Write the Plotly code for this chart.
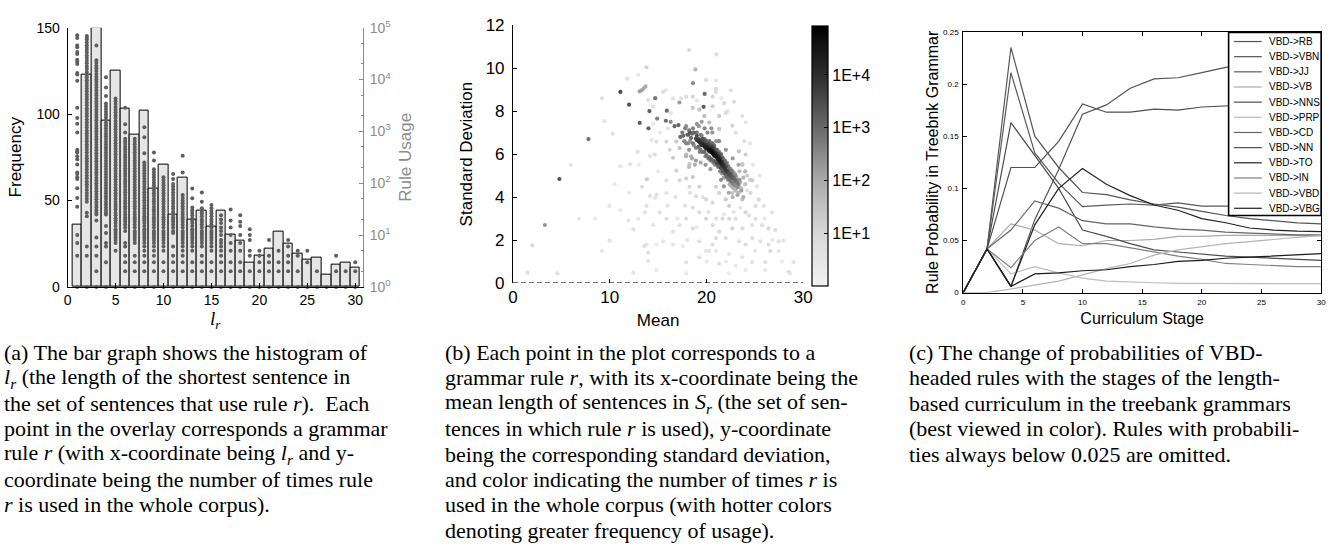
import math
import plotly.graph_objects as go

W, H = 1343, 552
SANS = "Liberation Sans"
SERIF = "Liberation Serif"


def px_x(p):
    return p / W


def px_y(p):
    return 1 - p / H


# ---------------- panel (a): histogram of l_r + rule usage overlay ----------------
lr_bins = list(range(1, 31))
lr_freq = [36, 123, 150, 96, 125, 103, 88, 102, 57, 71, 42, 63, 39, 44, 35,
           44, 30, 27, 14, 18, 22, 32, 25, 19, 16, 17, 7, 13, 14, 11]

usage_c1 = [71000, 63000, 45000, 42000, 34000, 31000, 24000, 22000, 20000, 13400, 12500, 9500,
            2850, 1800, 1400, 950, 440, 410, 390, 330, 290, 230, 160, 150, 130, 120, 80, 52, 35,
            10, 7, 4, 1]
usage_c2 = [69000, 64000, 59000, 52000, 46000, 41000, 37000, 33000, 29000, 26000, 23000, 20500,
            18000, 16000, 14000, 12400, 11000, 9700, 8600, 7600, 6700, 5900, 5200, 4600, 4100,
            3600, 3200, 2800, 2500, 2200, 1950, 1700, 1500, 1330, 1180, 1040, 920, 810, 720, 640,
            560, 500, 440, 390, 340, 300, 265, 235, 208, 184, 160, 140, 124, 108, 95, 84, 74, 65,
            57, 50, 44, 27, 23, 6, 4, 1]
usage_c3 = [45000, 23500, 21000, 18500, 16400, 14500, 12800, 11300, 10000, 8900, 7900, 7000, 6200,
            5500, 4900, 4300, 3800, 3400, 3000, 2650, 2350, 2080, 1840, 1630, 1450, 1280, 1130,
            1000, 890, 790, 700, 620, 550, 490, 430, 380, 340, 300, 265, 235, 208, 184, 163, 145,
            128, 113, 100, 89, 79, 70, 62, 55, 49, 43, 38, 34, 30, 27, 25, 19, 9, 6, 4, 2, 1]
usage_c4 = [11000, 7000, 4800, 3450, 3050, 2700, 2400, 2120, 1880, 1660, 1470, 1300, 1150, 1020,
            900, 800, 710, 630, 560, 495, 440, 390, 345, 305, 270, 240, 212, 188, 166, 147, 130,
            115, 102, 90, 80, 71, 63, 56, 50, 44, 39, 34, 30, 27, 25, 15, 11, 7, 6, 3, 1]
usage_c5 = [4300, 3800, 3350, 2950, 2600, 2300, 2030, 1800, 1590, 1400, 1240, 1100, 970, 860, 760,
            670, 590, 520, 460, 410, 360, 320, 283, 250, 221, 195, 172, 152, 135, 119, 105, 93,
            82, 73, 64, 57, 50, 44, 39, 35, 31, 27, 24, 21, 19, 17, 15, 13, 12, 11, 10, 9, 8, 7,
            5, 1]
usage_c6 = [2850, 1370, 950, 720, 640, 570, 505, 450, 400, 355, 315, 280, 248, 220, 195, 173, 154,
            137, 121, 108, 96, 85, 75, 67, 59, 52, 46, 41, 36, 32, 28, 25, 22, 20, 18, 16, 14, 12,
            7, 6, 4, 3, 2, 1]
usage_c7 = [720, 640, 565, 500, 445, 395, 350, 310, 275, 244, 216, 192, 170, 151, 134, 119, 105,
            93, 83, 73, 65, 58, 51, 45, 40, 36, 32, 28, 25, 22, 20, 18, 16, 14, 12, 11, 10, 9, 8,
            7, 4, 3, 2, 1]
usage_c8 = [1200, 770, 380, 250, 222, 197, 175, 155, 138, 122, 108, 96, 85, 76, 67, 60, 53, 47,
            42, 37, 33, 29, 26, 23, 21, 19, 17, 15, 13, 12, 11, 10, 9, 8, 7, 6, 5, 4, 3, 2, 1]
usage_c9 = [390, 275, 185, 165, 146, 130, 115, 102, 91, 81, 72, 64, 57, 50, 45, 40, 35, 31, 28,
            25, 22, 20, 18, 16, 14, 12, 11, 10, 9, 8, 7, 6, 5, 4, 3, 2, 1]
usage_c10 = [130, 115, 102, 91, 81, 72, 64, 57, 50, 45, 40, 35, 31, 28, 25, 22, 20, 18, 16, 14,
             12, 11, 10, 9, 8, 7, 6, 5, 3, 2, 1]
usage_c11 = [150, 120, 97, 86, 76, 67, 59, 52, 46, 41, 36, 32, 28, 25, 22, 20, 18, 16, 14, 12,
             11, 6, 4, 3, 2, 1]
usage_c12 = [340, 160, 59, 52, 46, 41, 36, 32, 28, 25, 22, 20, 18, 16, 14, 12, 11, 10, 9, 8, 7,
             6, 5, 4, 3, 2, 1]
usage_c13 = [79, 51, 34, 30, 27, 24, 21, 19, 17, 15, 13, 12, 11, 10, 9, 8, 7, 6, 5, 3, 2, 1]
usage_c14 = [66, 44, 33, 29, 26, 23, 20, 18, 16, 14, 12, 11, 10, 9, 8, 7, 6, 4, 3, 2, 1]
usage_c15 = [38, 33, 29, 26, 23, 20, 18, 16, 14, 12, 11, 10, 9, 8, 7, 6, 5, 3, 2, 1]
usage_c16 = [24, 20, 17, 14, 12, 10, 8, 7, 6, 5, 4, 3, 2, 1]
usage_c17 = [31, 19, 14, 10, 7, 5, 3, 2, 1]
usage_c18 = [24, 18, 15, 10, 7, 5, 3, 2, 1]
usage_c19 = [13, 10, 8, 5, 4, 2, 1]
usage_c20 = [5, 4, 3, 2, 1]
usage_c21 = [8, 4, 3, 2, 1]
usage_c22 = [5, 3, 2, 1]
usage_c23 = [8, 6, 4, 3, 2, 1]
usage_c24 = [5, 4, 2, 1]
usage_c25 = [5, 3, 1]
usage_c26 = [2, 1]
usage_c27 = [1]
usage_c28 = [4, 2, 1]
usage_c29 = [2, 1]
usage_c30 = [3, 2, 1]
usage_by_bin = [usage_c1, usage_c2, usage_c3, usage_c4, usage_c5, usage_c6, usage_c7, usage_c8,
                usage_c9, usage_c10, usage_c11, usage_c12, usage_c13, usage_c14, usage_c15,
                usage_c16, usage_c17, usage_c18, usage_c19, usage_c20, usage_c21, usage_c22,
                usage_c23, usage_c24, usage_c25, usage_c26, usage_c27, usage_c28, usage_c29,
                usage_c30]

a_xticks = [0, 5, 10, 15, 20, 25, 30]
a_yticks = [0, 50, 100, 150]
a_logticks = [1, 10, 100, 1000, 10000, 100000]
a_logticktext = ["10<sup>0</sup>", "10<sup>1</sup>", "10<sup>2</sup>", "10<sup>3</sup>",
                 "10<sup>4</sup>", "10<sup>5</sup>"]

# ---------------- panel (b): mean vs std of sentence length per rule ----------------
core_mean = [18.9, 19.0, 19.1, 19.2, 19.3, 19.3, 19.4, 19.5, 19.5, 19.6, 19.7, 19.7, 19.8, 19.9,
             19.9, 20.0, 20.1, 20.1, 20.2, 20.3, 20.3, 20.4, 20.5, 20.5, 20.6, 20.6, 20.7, 20.8,
             20.8, 20.9, 21.0, 21.0, 21.1, 21.2, 21.2, 21.3, 21.4, 21.4, 21.5, 21.6, 21.6, 21.7,
             21.8, 21.8, 21.9, 22.0, 22.0, 22.1, 22.2, 22.3, 22.4, 22.5, 22.6, 22.7, 22.8, 22.9,
             23.0, 23.1, 23.2, 23.3]
core_std = [6.72, 6.65, 6.70, 6.60, 6.55, 6.68, 6.50, 6.58, 6.42, 6.48, 6.40, 6.55, 6.35, 6.42,
            6.28, 6.33, 6.25, 6.40, 6.20, 6.30, 6.12, 6.18, 6.10, 6.25, 6.05, 6.15, 6.00, 6.08,
            5.92, 5.98, 5.88, 6.02, 5.82, 5.90, 5.75, 5.70, 5.78, 5.62, 5.58, 5.65, 5.50, 5.45,
            5.52, 5.38, 5.32, 5.40, 5.25, 5.18, 5.22, 5.10, 5.02, 5.08, 4.95, 4.88, 4.92, 4.80,
            4.72, 4.78, 4.65, 4.58]
core_usage = [3000, 5000, 2000, 8000, 4000, 1500, 10000, 3000, 6000, 12000, 7000, 2500, 15000,
              9000, 5000, 20000, 11000, 4000, 25000, 8000, 14000, 40000, 30000, 9000, 50000, 20000,
              35000, 12000, 25000, 18000, 30000, 6000, 20000, 10000, 15000, 25000, 8000, 12000,
              18000, 6000, 10000, 7000, 4000, 8000, 5000, 3000, 6000, 4000, 2000, 3000, 2500, 1500,
              2000, 1200, 800, 1000, 700, 500, 600, 400]

band_mean = [17.5, 17.7, 17.9, 18.1, 18.3, 18.4, 18.6, 18.7, 18.9, 19.0, 19.2, 19.4, 19.5, 19.6,
             19.8, 19.9, 20.0, 20.1, 20.2, 20.3, 20.4, 20.5, 20.6, 20.7, 20.8, 20.9, 21.0, 21.1,
             21.2, 21.3, 21.4, 21.5, 21.6, 21.7, 21.8, 21.9, 22.0, 22.1, 22.2, 22.3, 22.4, 22.5,
             22.6, 22.7, 22.8, 22.9, 23.0, 23.2, 23.4, 23.6, 23.2, 23.8, 22.7, 22.3, 21.8, 21.5,
             20.4, 19.9, 19.4, 18.9, 18.2, 17.9, 19.0, 19.8, 20.6, 21.3, 22.0, 22.7, 23.3, 24.0]
band_std = [7.0, 6.6, 7.3, 6.9, 7.0, 6.75, 6.5, 7.0, 6.3, 6.85, 6.35, 6.2, 6.85, 6.7, 6.1, 6.6,
            5.95, 6.55, 6.45, 5.85, 6.4, 5.75, 6.35, 5.7, 6.25, 5.65, 6.2, 5.55, 6.05, 5.45, 5.95,
            5.35, 5.85, 5.2, 5.7, 5.1, 5.55, 4.95, 5.45, 4.85, 5.3, 4.75, 5.2, 4.65, 5.05, 4.55,
            5.0, 4.45, 4.8, 4.3, 4.1, 4.0, 4.0, 4.2, 4.5, 4.8, 5.3, 5.5, 5.6, 5.7, 6.2, 6.5, 7.4,
            7.2, 7.0, 6.6, 6.2, 5.8, 5.5, 5.2]
band_usage = [500, 300, 200, 1500, 2000, 900, 600, 1200, 400, 2500, 800, 600, 400, 3000, 900,
              2000, 700, 1500, 3000, 900, 2000, 1200, 4000, 800, 3000, 2000, 1500, 3000, 2500,
              1500, 2000, 2500, 1200, 2000, 900, 1500, 1000, 1200, 700, 900, 600, 700, 500, 500,
              400, 300, 300, 250, 200, 150, 100, 80, 60, 120, 200, 300, 150, 200, 100, 150, 200,
              400, 250, 350, 200, 300, 200, 150, 100, 60]

halo_mean = [18.0, 18.2, 18.3, 18.5, 18.6, 18.7, 18.5, 18.8, 18.4, 19.0, 19.1, 19.2, 19.3, 19.4,
             19.5, 19.6, 19.8, 19.9, 20.0, 20.1, 20.2, 20.3, 20.4, 20.5, 20.6, 20.7, 20.8, 20.9,
             21.0, 21.1, 21.2, 21.3, 21.4, 21.5, 21.6, 21.7, 21.8, 21.9, 22.0, 22.1, 22.2, 22.3,
             22.4, 22.5, 22.6, 22.7, 22.8, 22.9, 23.0, 23.1, 23.3, 23.5, 23.6, 23.8, 24.0, 24.2,
             24.5, 23.4, 23.7, 19.7, 17.6, 17.3, 17.8, 18.1, 17.9, 18.2]
halo_std = [6.9, 7.1, 6.6, 6.95, 7.2, 6.4, 5.8, 5.5, 5.9, 7.0, 6.3, 7.3, 6.1, 6.9, 7.5, 6.1, 6.7,
            5.9, 6.6, 7.0, 5.8, 6.6, 5.7, 7.2, 6.5, 5.6, 6.4, 5.5, 6.6, 6.2, 5.4, 6.1, 5.2, 6.0,
            5.1, 5.8, 4.9, 5.7, 5.0, 5.6, 4.8, 5.4, 4.6, 5.3, 4.5, 5.2, 4.4, 5.1, 4.3, 4.9, 4.2,
            4.7, 4.4, 4.9, 4.6, 5.0, 4.8, 5.2, 5.5, 6.6, 6.85, 6.8, 7.2, 6.5, 5.9, 5.4]
halo_usage = [300, 500, 200, 800, 400, 150, 100, 80, 60, 600, 300, 200, 400, 500, 150, 700, 900,
              400, 600, 300, 500, 800, 300, 200, 1000, 400, 700, 300, 200, 600, 500, 400, 300,
              600, 200, 500, 150, 300, 400, 200, 150, 300, 100, 200, 80, 150, 60, 100, 50, 80, 40,
              60, 30, 50, 30, 20, 15, 40, 25, 250, 800, 1000, 400, 250, 60, 40]

isolated_mean = [11.1, 12.0, 13.1, 13.3, 13.5, 13.7, 13.8, 14.1, 14.7, 13.1, 14.0, 14.9, 15.9,
                 15.8, 16.3, 16.7, 17.1, 17.2, 19.8, 19.7, 18.6, 18.85, 18.2, 21.0, 4.8, 7.8, 3.3,
                 2.0, 1.5, 4.6]
isolated_std = [8.89, 8.3, 8.92, 8.97, 9.05, 9.15, 10.04, 8.0, 8.6, 7.45, 7.2, 7.65, 8.02, 7.55,
                7.5, 7.3, 7.35, 8.4, 8.8, 8.2, 9.3, 9.94, 10.84, 10.64, 4.84, 6.7, 2.7, 1.75,
                0.48, 0.45]
isolated_usage = [3000, 2500, 150, 120, 100, 80, 12, 1500, 600, 1500, 1200, 400, 800, 900, 300,
                  1000, 1200, 150, 1000, 1500, 300, 60, 8, 6, 2500, 700, 200, 8, 5, 4]

sparse_mean = [19.95, 20.97, 20.97, 20.97, 22.5, 22.84, 20.63, 21.99, 23.7, 24.04, 22.67, 21.31,
               17.9, 18.58, 17.39, 16.54, 15.51, 15.79, 13.98, 14.49, 18.58, 19.26, 20.63, 21.82,
               19.77, 20.29, 21.31,
               23.35, 24.04, 23.7, 24.72, 24.55, 25.4, 25.91, 25.06, 24.72, 24.04, 23.7, 23.35,
               22.67, 22.33, 21.99, 21.31, 20.97, 20.63, 19.95, 19.26, 18.58, 17.9, 18.24, 18.92,
               17.22, 16.88, 16.54, 17.22, 17.9, 18.24, 16.2, 15.85, 16.88,
               18.58, 19.26, 19.95, 20.63, 21.31, 21.99, 22.67, 23.35, 24.04, 24.72, 25.57, 26.42,
               27.1, 27.45, 27.96, 26.42, 26.59, 27.45, 26.08, 24.72, 23.7, 22.33, 21.31, 20.63,
               19.95, 19.26, 18.58, 17.9, 17.22, 16.54, 15.85, 15.17, 14.49, 13.8, 13.57, 13.98,
               13.98, 14.83, 15.51, 16.54, 17.56, 17.9, 19.26, 20.29, 20.97, 21.65, 22.33, 23.01,
               23.7, 24.38, 25.06, 25.74, 26.76, 28.98, 28.47, 28.64, 26.08, 24.04, 22.33, 17.9,
               14.83, 12.44,
               13.8, 13.64, 14.15, 13.33, 13.84, 14.83, 14.69, 15.85, 15.85, 12.89, 14.15, 14.66,
               14.83, 14.32, 12.1, 11.08, 9.96, 11.93, 12.44, 12.96, 11.08, 9.99, 9.2, 6.82, 5.97,
               10.3, 9.44, 9.2, 11.8, 12.96]
sparse_std = [9.45, 9.42, 9.04, 8.89, 8.97, 8.43, 8.22, 7.92, 7.77, 7.47, 7.32, 7.77,
              8.67, 8.67, 8.59, 8.59, 8.89, 8.97, 8.52, 8.22, 8.15, 8.07, 8.67, 8.37,
              7.77, 7.47, 7.17,
              6.13, 5.98, 5.53, 4.78, 4.19, 3.89, 3.59, 2.99, 2.69, 3.29, 3.89, 4.48,
              4.19, 3.59, 3.89, 4.19, 4.48, 3.74, 3.89, 4.48, 4.93, 4.86, 4.48, 4.04,
              4.78, 5.23, 5.83, 6.28, 5.98, 5.53, 6.2, 6.58, 6.58,
              3.51, 3.29, 2.99, 2.69, 2.39, 2.09, 2.54, 1.94, 1.79, 2.09, 1.94, 2.54,
              2.47, 1.94, 1.97, 1.79, 1.49, 1.49, 0.97, 0.97, 1.2, 1.35, 0.9, 1.79,
              1.49, 1.94, 2.54, 2.99, 2.69, 2.39, 2.99, 3.29, 2.69, 1.79, 1.72, 1.42,
              1.02, 1.79, 1.94, 1.79, 1.72, 0.97, 1.2, 1.49, 2.09, 2.99, 2.99, 2.99,
              2.54, 3.14, 3.59, 2.69, 3.29, 0.97, 0.52, 0.45, 0.6, 0.6, 0.45, 0.45,
              0.6, 0.48,
              3.59, 3.29, 4.04, 4.48, 4.83, 4.11, 3.96, 4.78, 4.19, 6.1, 5.9, 5.98,
              6.58, 6.65, 5.53, 5.43, 3.59, 2.91, 2.5, 2.99, 3.39, 1.97, 1.49, 2.99, 5.5,
              6.95, 7.53, 8.59, 9.51, 9.69]
sparse_usage = [6, 3, 8, 5, 4, 6, 15, 10, 4, 3, 12, 20,
                6, 9, 5, 4, 7, 3, 5, 4, 25, 30, 10, 8,
                40, 35, 25,
                30, 15, 25, 20, 12, 8, 5, 6, 4, 10, 30, 40,
                25, 15, 20, 12, 15, 8, 10, 12, 20, 15, 8, 6,
                10, 12, 18, 30, 35, 25, 10, 8, 20,
                5, 7, 10, 6, 8, 5, 12, 4, 6, 5, 4, 8,
                6, 4, 3, 5, 7, 3, 4, 3, 4, 3, 4, 5,
                3, 4, 6, 5, 4, 3, 5, 4, 3, 3, 4, 5,
                3, 2, 3, 3, 2, 3, 4, 3, 6, 8, 10, 7,
                6, 5, 6, 4, 3, 3, 4, 3, 2, 2, 2, 2,
                2, 3,
                4, 3, 5, 6, 20, 4, 3, 5, 4, 5, 4, 6,
                5, 3, 4, 3, 3, 3, 4, 3, 2, 3, 3, 3, 3,
                4, 3, 4, 4, 3]

faint_mean = [16.0, 17.0, 18.0, 19.0, 20.0, 21.0, 22.0, 23.0, 25.0, 26.0, 25.5, 24.5, 23.0, 22.2,
              21.5, 19.0, 16.0, 15.0, 13.0, 12.0, 10.5, 8.5, 16.8, 17.8, 18.3, 19.6, 20.2, 21.0,
              21.8, 22.8, 23.5, 24.2, 25.2, 24.8, 23.9, 16.3, 15.2, 14.5, 26.8, 27.8]
faint_std = [3.6, 3.0, 2.0, 2.6, 1.0, 1.5, 1.0, 0.8, 1.5, 3.0, 5.0, 6.5, 7.0, 8.0, 8.6, 8.5, 7.2,
             5.2, 5.5, 4.2, 4.6, 3.0, 4.0, 3.6, 4.2, 4.0, 3.3, 3.0, 3.2, 3.3, 3.5, 4.3, 4.5, 5.5,
             6.6, 7.9, 7.0, 7.4, 2.0, 1.0]
faint_usage = [3, 2, 3, 2, 2, 3, 2, 2, 3, 2, 3, 3, 4, 3, 2, 3, 3, 2, 2, 2, 2, 2, 3, 4, 5, 4, 3, 4,
               3, 3, 3, 4, 3, 3, 5, 3, 2, 3, 2, 2]

# rules used in a single sentence length (std = 0) form the dashed baseline
zero_std_mean = [0, 30]
zero_std_std = [0, 0]

b_xticks = [0, 10, 20, 30]
b_yticks = [0, 2, 4, 6, 8, 10, 12]
cbar_log_max = 4.92
cbar_ticks = [1, 2, 3, 4]
cbar_ticktext = ["1E+1", "1E+2", "1E+3", "1E+4"]

# ---------------- panel (c): VBD-headed rule probabilities per curriculum stage ----------------
stages = [0, 2, 4, 6, 8, 10, 12, 14, 16, 18, 20, 22, 24, 26, 28, 30]
rule_names = ["VBD->RB", "VBD->VBN", "VBD->JJ", "VBD->VB", "VBD->NNS", "VBD->PRP",
              "VBD->CD", "VBD->NN", "VBD->TO", "VBD->IN", "VBD->VBD", "VBD->VBG"]
p_rb = [0, 0.042, 0.235, 0.150, 0.120, 0.096, 0.094, 0.089, 0.085, 0.082, 0.078, 0.074, 0.071,
        0.069, 0.067, 0.066]
p_vbn = [0, 0.042, 0.006, 0.070, 0.118, 0.171, 0.180, 0.196, 0.205, 0.206, 0.211, 0.216, 0.219,
         0.222, 0.225, 0.227]
p_jj = [0, 0.042, 0.211, 0.134, 0.105, 0.0825, 0.084, 0.085, 0.084, 0.086, 0.083, 0.083, 0.083,
        0.083, 0.082, 0.082]
p_vb = [0, 0.042, 0.066, 0.060, 0.047, 0.045, 0.050, 0.050, 0.051, 0.054, 0.054, 0.055, 0.055,
        0.055, 0.055, 0.0545]
p_nns = [0, 0.042, 0.163, 0.132, 0.100, 0.060, 0.054, 0.047, 0.041, 0.039, 0.037, 0.035, 0.034,
         0.033, 0.032, 0.031]
p_prp = [0, 0.042, 0.018, 0.025, 0.019, 0.014, 0.011, 0.010, 0.0095, 0.009, 0.009, 0.009, 0.0088,
         0.0087, 0.0086, 0.0086]
p_cd = [0, 0.042, 0.060, 0.088, 0.081, 0.069, 0.066, 0.066, 0.063, 0.061, 0.060, 0.058, 0.057,
        0.056, 0.0555, 0.0554]
p_nn = [0, 0.042, 0.120, 0.120, 0.145, 0.181, 0.173, 0.173, 0.176, 0.175, 0.178, 0.179, 0.180,
        0.181, 0.182, 0.183]
p_to = [0, 0.042, 0.006, 0.065, 0.100, 0.119, 0.104, 0.093, 0.084, 0.079, 0.071, 0.067, 0.062,
        0.060, 0.059, 0.0585]
p_in = [0, 0.042, 0.024, 0.050, 0.063, 0.047, 0.047, 0.043, 0.039, 0.035, 0.032, 0.028, 0.027,
        0.026, 0.025, 0.025]
p_vbd = [0, 0, 0.0035, 0.007, 0.011, 0.017, 0.023, 0.028, 0.036, 0.041, 0.044, 0.047, 0.049,
         0.051, 0.053, 0.055]
p_vbg = [0, 0.042, 0.006, 0.018, 0.019, 0.021, 0.022, 0.025, 0.027, 0.030, 0.031, 0.033, 0.034,
         0.035, 0.036, 0.0375]
rule_probs = [p_rb, p_vbn, p_jj, p_vb, p_nns, p_prp, p_cd, p_nn, p_to, p_in, p_vbd, p_vbg]
rule_colors = ["#555555", "#555555", "#5a5a5a", "#aaaaaa", "#4d4d4d", "#bdbdbd",
               "#666666", "#505050", "#222222", "#808080", "#b5b5b5", "#1c1c1c"]
c_xticks = [0, 5, 10, 15, 20, 25, 30]
c_yticks = [0, 0.05, 0.1, 0.15, 0.2, 0.25]
c_yticktext = ["0", "0.05", "0.1", "0.15", "0.2", "0.25"]

# ---------------- captions ----------------
caption_a = [
    "(a) The bar graph shows the histogram of",
    "<i>l<sub>r</sub></i> (the length of the shortest sentence in",
    "the set of sentences that use rule <i>r</i>).  Each",
    "point in the overlay corresponds a grammar",
    "rule <i>r</i> (with x-coordinate being <i>l<sub>r</sub></i> and y-",
    "coordinate being the number of times rule",
    "<i>r</i> is used in the whole corpus).",
]
caption_b = [
    "(b) Each point in the plot corresponds to a",
    "grammar rule <i>r</i>, with its x-coordinate being the",
    "mean length of sentences in <i>S<sub>r</sub></i> (the set of sen-",
    "tences in which rule <i>r</i> is used), y-coordinate",
    "being the corresponding standard deviation,",
    "and color indicating the number of times <i>r</i> is",
    "used in the whole corpus (with hotter colors",
    "denoting greater frequency of usage).",
]
caption_c = [
    "(c) The change of probabilities of VBD-",
    "headed rules with the stages of the length-",
    "based curriculum in the treebank grammars",
    "(best viewed in color). Rules with probabili-",
    "ties always below 0.025 are omitted.",
]

# ======================================================================
fig = go.Figure()

# panel (a)
fig.add_trace(go.Bar(x=lr_bins, y=lr_freq, width=1,
                     marker=dict(color="#e6e6e6", line=dict(color="black", width=1)),
                     xaxis="x", yaxis="y", showlegend=False, name="Frequency"))
dot_x, dot_u = [], []
for b, vals in zip(lr_bins, usage_by_bin):
    for v in vals:
        dot_x.append(b)
        dot_u.append(v)
fig.add_trace(go.Scatter(x=dot_x, y=dot_u, mode="markers",
                         marker=dict(size=4, color="#5e5e5e"),
                         xaxis="x", yaxis="y2", cliponaxis=False, showlegend=False,
                         name="Rule Usage"))

# panel (b)
all_mean = core_mean + band_mean + halo_mean + isolated_mean + sparse_mean + faint_mean
all_std = core_std + band_std + halo_std + isolated_std + sparse_std + faint_std
all_usage = core_usage + band_usage + halo_usage + isolated_usage + sparse_usage + faint_usage
order = sorted(range(len(all_usage)), key=lambda i: all_usage[i])
fig.add_trace(go.Scatter(x=zero_std_mean, y=zero_std_std, mode="lines",
                         line=dict(color="#444444", width=1.6, dash="5px,3px"),
                         xaxis="x2", yaxis="y3", cliponaxis=False, showlegend=False,
                         hoverinfo="skip"))
fig.add_trace(go.Scatter(
    x=[all_mean[i] for i in order], y=[all_std[i] for i in order], mode="markers",
    marker=dict(size=4.2, color=[math.log10(all_usage[i]) for i in order],
                colorscale=[[0, "#f2f2f2"], [0.2, "#d8d8d8"], [0.4, "#acacac"],
                            [0.6, "#6c6c6c"], [0.8, "#303030"], [1, "#000000"]],
                cmin=0, cmax=cbar_log_max,
                colorbar=dict(x=px_x(815), xanchor="left", y=px_y(151.8), yanchor="middle",
                              len=260, lenmode="pixels", thickness=16, thicknessmode="pixels",
                              outlinewidth=1.2, outlinecolor="black", xpad=0, ypad=0,
                              tickvals=cbar_ticks, ticktext=cbar_ticktext, ticks="inside",
                              ticklen=4, tickcolor="black",
                              tickfont=dict(family=SANS, size=16, color="black"))),
    xaxis="x2", yaxis="y3", showlegend=False, name="rules"))

# panel (c)
for name, vals, col in zip(rule_names, rule_probs, rule_colors):
    fig.add_trace(go.Scatter(x=stages, y=vals, mode="lines", name=name,
                             line=dict(color=col, width=1.2),
                             xaxis="x3", yaxis="y4", showlegend=False))

axis_common = dict(showgrid=False, zeroline=False, ticks="inside", ticklen=4,
                   showline=True, linecolor="black", linewidth=1, tickcolor="black")

fig.update_layout(
    width=W, height=H, autosize=False,
    margin=dict(l=0, r=0, t=0, b=0),
    paper_bgcolor="white", plot_bgcolor="rgba(0,0,0,0)",
    font=dict(family=SANS, size=12, color="black"),
    showlegend=False,
    bargap=0,
    xaxis=dict(domain=[px_x(63.3), px_x(361.7)], range=[0, 30.8], anchor="y",
               tickvals=a_xticks, tickfont=dict(size=14), ticklabelstandoff=0,
               title=dict(text="<i>l<sub>r</sub></i>", font=dict(family=SERIF, size=19),
                          standoff=0),
               **axis_common),
    yaxis=dict(domain=[px_y(287.3), px_y(18.3)], range=[0, 150], anchor="x",
               tickvals=a_yticks, tickfont=dict(size=14), ticklabelstandoff=4,
               title=dict(text="Frequency", font=dict(size=17), standoff=10),
               **axis_common),
    yaxis2=dict(overlaying="y", side="right", anchor="x", type="log", range=[0, 5],
                tickvals=a_logticks, ticktext=a_logticktext, showgrid=False, zeroline=False,
                ticks="inside", ticklen=4, showline=True, linecolor="#8c8c8c", linewidth=1,
                tickcolor="#8c8c8c", tickfont=dict(size=14, color="#8c8c8c"),
                ticklabelstandoff=3,
                minor=dict(ticks="inside", ticklen=2, tickcolor="#8c8c8c", showgrid=False),
                title=dict(text="Rule Usage", font=dict(size=17, color="#8c8c8c"), standoff=8)),
    xaxis2=dict(domain=[px_x(513.3), px_x(806.7)], range=[0, 30], anchor="y3",
                tickvals=b_xticks, tickfont=dict(size=17), ticklabelstandoff=2,
                title=dict(text="Mean", font=dict(size=17), standoff=8),
                showgrid=False, zeroline=False, ticks="inside", ticklen=4, showline=False,
                tickcolor="black"),
    yaxis3=dict(domain=[px_y(283.3), px_y(15.7)], range=[0, 12], anchor="x2",
                tickvals=b_yticks, tickfont=dict(size=17), ticklabelstandoff=4,
                title=dict(text="Standard Deviation", font=dict(size=17), standoff=8),
                **axis_common),
    xaxis3=dict(domain=[px_x(968.3), px_x(1330)], range=[0, 30], anchor="y4",
                tickvals=c_xticks, tickfont=dict(size=8), mirror="ticks", ticklabelstandoff=2,
                title=dict(text="Curriculum Stage", font=dict(size=16), standoff=6),
                **axis_common),
    yaxis4=dict(domain=[px_y(293.3), px_y(22.7)], range=[0, 0.25], anchor="x3",
                tickvals=c_yticks, ticktext=c_yticktext, tickfont=dict(size=8), mirror="ticks",
                ticklabelstandoff=2,
                title=dict(text="Rule Probability in Treebnk Grammar", font=dict(size=16),
                           standoff=0),
                **axis_common),
)

# legend for panel (c) (compact box like the original)
shapes = [dict(type="rect", xref="paper", yref="paper",
               x0=px_x(1236.5), x1=px_x(1330), y0=px_y(213.3), y1=px_y(23.3),
               fillcolor="white", line=dict(color="black", width=1.6), layer="above")]
annotations = []
for i, (name, col) in enumerate(zip(rule_names, rule_colors)):
    yy = 32.7 + 15.73 * i
    shapes.append(dict(type="line", xref="paper", yref="paper",
                       x0=px_x(1242), x1=px_x(1270), y0=px_y(yy), y1=px_y(yy),
                       line=dict(color=col, width=1.2), layer="above"))
    annotations.append(dict(text=name, xref="paper", yref="paper", x=px_x(1275), y=px_y(yy),
                            xanchor="left", yanchor="middle", showarrow=False,
                            font=dict(family=SANS, size=10, color="black")))

# captions
for col_x, lines in ((-3, caption_a), (443, caption_b), (912, caption_c)):
    for k, line in enumerate(lines):
        annotations.append(dict(text=line, xref="paper", yref="paper", x=px_x(col_x),
                                y=px_y(355.5 + 26.3 * k), xanchor="left", yanchor="middle",
                                showarrow=False,
                                font=dict(family=SERIF, size=22, color="black")))

fig.update_layout(shapes=shapes, annotations=annotations)

fig.write_html("out.html", post_script="document.body.style.margin='0';",
               config={"displayModeBar": False})
